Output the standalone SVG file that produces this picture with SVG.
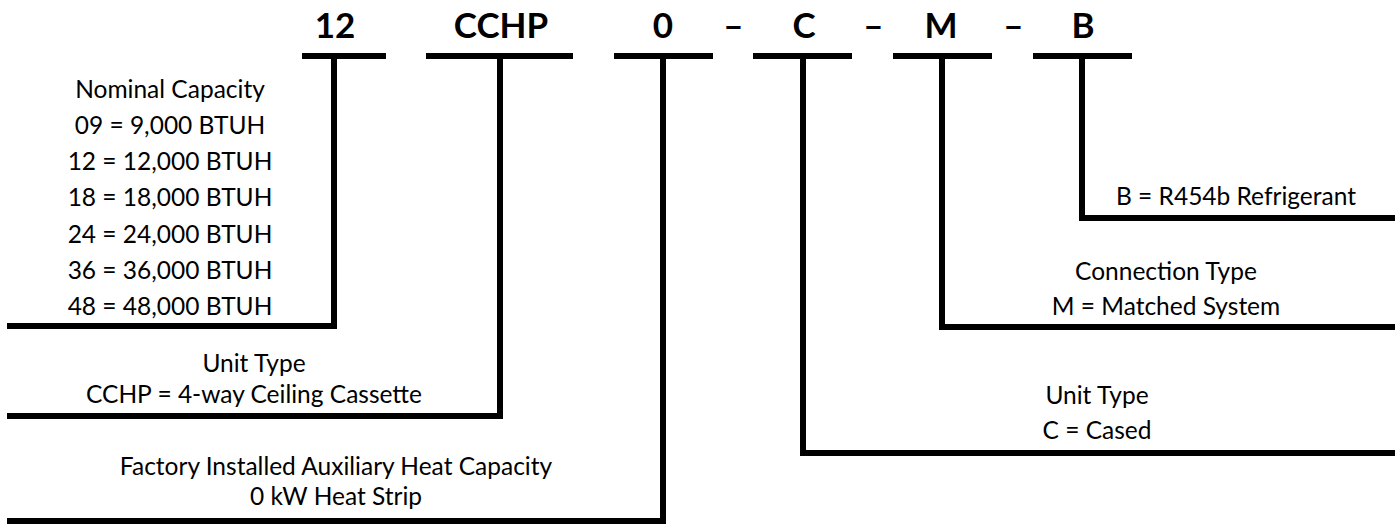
<svg xmlns="http://www.w3.org/2000/svg" width="1395" height="527" viewBox="0 0 1395 527">
<style>
.code{font-family:Lato,"Liberation Sans",sans-serif;font-weight:bold;font-size:35px;fill:#000;text-anchor:middle}
.lbl{font-family:Lato,"Liberation Sans",sans-serif;font-size:24.5px;fill:#000;text-anchor:middle}
.ln{fill:none;stroke:#000;stroke-width:6;stroke-linejoin:miter;stroke-linecap:butt}
</style>
<rect width="1395" height="527" fill="#fff"/>
<g id="code">
<text class="code" x="335" y="38">12</text>
<text class="code" x="501" y="38">CCHP</text>
<text class="code" x="663" y="38">0</text>
<text class="code" x="733.5" y="38">–</text>
<text class="code" x="804" y="38">C</text>
<text class="code" x="873.5" y="38">–</text>
<text class="code" x="941" y="38">M</text>
<text class="code" x="1013.5" y="38">–</text>
<text class="code" x="1083" y="38">B</text>
</g>
<g id="connectors">
<line class="ln" x1="302" y1="56" x2="386" y2="56"/>
<line class="ln" x1="426" y1="56" x2="573" y2="56"/>
<line class="ln" x1="614" y1="56" x2="713" y2="56"/>
<line class="ln" x1="753" y1="56" x2="852" y2="56"/>
<line class="ln" x1="893" y1="56" x2="992" y2="56"/>
<line class="ln" x1="1033" y1="56" x2="1132" y2="56"/>
<polyline class="ln" points="334,56 334,326 7,326"/>
<polyline class="ln" points="500,56 500,416 7,416"/>
<polyline class="ln" points="663,56 663,521 7,521"/>
<polyline class="ln" points="803,56 803,453 1395,453"/>
<polyline class="ln" points="942,56 942,327 1395,327"/>
<polyline class="ln" points="1082,56 1082,218 1395,218"/>
</g>
<g id="capacity">
<text class="lbl" x="170" y="98">Nominal Capacity</text>
<text class="lbl" x="170" y="134">09 = 9,000 BTUH</text>
<text class="lbl" x="170" y="170">12 = 12,000 BTUH</text>
<text class="lbl" x="170" y="206">18 = 18,000 BTUH</text>
<text class="lbl" x="170" y="243">24 = 24,000 BTUH</text>
<text class="lbl" x="170" y="279">36 = 36,000 BTUH</text>
<text class="lbl" x="170" y="315">48 = 48,000 BTUH</text>
</g>
<g id="unit-type">
<text class="lbl" x="254" y="372">Unit Type</text>
<text class="lbl" x="254" y="403">CCHP = 4-way Ceiling Cassette</text>
</g>
<g id="aux-heat">
<text class="lbl" x="336" y="475">Factory Installed Auxiliary Heat Capacity</text>
<text class="lbl" x="336" y="505">0 kW Heat Strip</text>
</g>
<g id="cased">
<text class="lbl" x="1097" y="404">Unit Type</text>
<text class="lbl" x="1097" y="439">C = Cased</text>
</g>
<g id="connection">
<text class="lbl" x="1166" y="280">Connection Type</text>
<text class="lbl" x="1166" y="315">M = Matched System</text>
</g>
<g id="refrigerant">
<text class="lbl" x="1236" y="205">B = R454b Refrigerant</text>
</g>
</svg>
